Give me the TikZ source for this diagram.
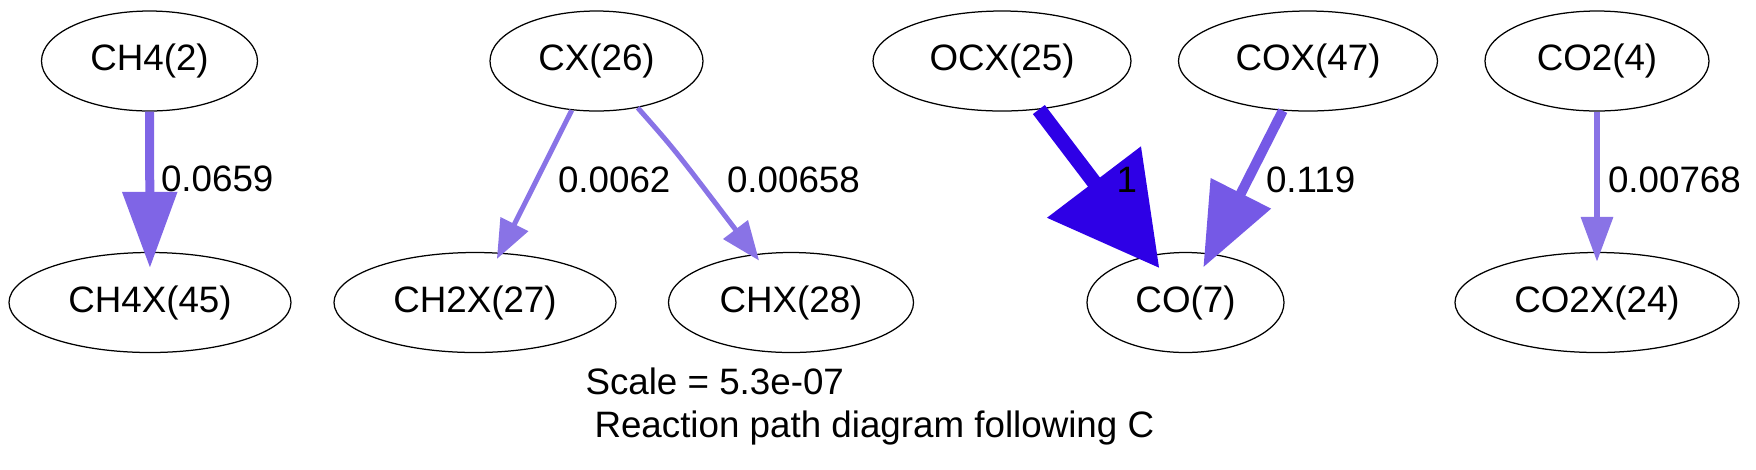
\documentclass[tikz,border=0pt]{standalone}
\usepackage{fontspec}
\setmainfont{Liberation Sans}
\usepackage{xcolor}
\definecolor{FluxA}{RGB}{46,0,230}
\definecolor{FluxB}{RGB}{117,89,230}
\definecolor{FluxC}{RGB}{127,101,230}
\definecolor{FluxD}{RGB}{137,115,230}
\usepackage{tikz}
\usetikzlibrary{shapes.geometric}
\usetikzlibrary{arrows.meta}
\tikzstyle{Species}=[ellipse,draw=black,line width=0.5pt,inner sep=0pt,
minimum height=40pt,font=\fontsize{14.7}{17}\selectfont]
\tikzstyle{Label}=[anchor=base west,inner sep=0pt,font=\fontsize{14.7}{17}\selectfont]
\tikzstyle{Flux}=[line cap=butt]

\begin{document}
\begin{tikzpicture}[x=0.4pt,y=-0.4pt]
        \useasboundingbox(0,0)rectangle(1756,469);
        % species
        \node[Species,minimum width=86.4pt](CH4)at(149.5,61){CH4(2)};
        \node[Species,minimum width=85.2pt](CX)at(596.5,61){CX(26)};
        \node[Species,minimum width=103.2pt](OCX)at(1002,61){OCX(25)};
        \node[Species,minimum width=103.6pt](COX)at(1308,61){COX(47)};
        \node[Species,minimum width=89.6pt](CO2)at(1597,61){CO2(4)};
        \node[Species,minimum width=112.8pt](CH4X)at(150,302.5){CH4X(45)};
        \node[Species,minimum width=112.8pt](CH2X)at(475,302.5){CH2X(27)};
        \node[Species,minimum width=98pt](CHX)at(791,302.5){CHX(28)};
        \node[Species,minimum width=78.8pt](CO)at(1185.5,302.5){CO(7)};
        \node[Species,minimum width=113.6pt](CO2X)at(1597,302.5){CO2X(24)};
        % fluxes
        \draw[Flux,draw=FluxC,line width=3.6pt,-{Triangle[length=30.4pt,width=21.2pt]},
            shorten >=-6.4pt](CH4)--(CH4X);
        \draw[Flux,draw=FluxD,line width=2pt,-{Triangle[length=15.6pt,width=12pt]},
            shorten >=-2.8pt](CX)--(CH2X);
        \draw[Flux,draw=FluxD,line width=2pt,-{Triangle[length=15.6pt,width=12pt]},
            shorten >=-3.2pt](CX).. controls (675,150) ..(CHX);
        \draw[Flux,draw=FluxA,line width=6pt,-{Triangle[length=43.2pt,width=45.6pt]},
            shorten >=-6.4pt](OCX)--(CO);
        \draw[Flux,draw=FluxB,line width=4pt,-{Triangle[length=33.2pt,width=26pt]},
            shorten >=-6.2pt](COX)--(CO);
        \draw[Flux,draw=FluxD,line width=2.6pt,-{Triangle[length=18pt,width=12.4pt]},
            shorten >=-4pt](CO2)--(CO2X);
        % flux values
        \node[Label](l1)at(160.5,191){0.0659};
        \node[Label](l2)at(557.5,192){0.0062};
        \node[Label](l3)at(726.5,192){0.00658};
        \node[Label](l4)at(1116,192){1};
        \node[Label](l5)at(1265.5,192){0.119};
        \node[Label](l6)at(1607.5,192){0.00768};
        % caption
        \node[Label](scale)at(585,394){Scale = 5.3e-07};
        \node[Label](title)at(594,437){Reaction path diagram following C};
    \end{tikzpicture}
\end{document}
